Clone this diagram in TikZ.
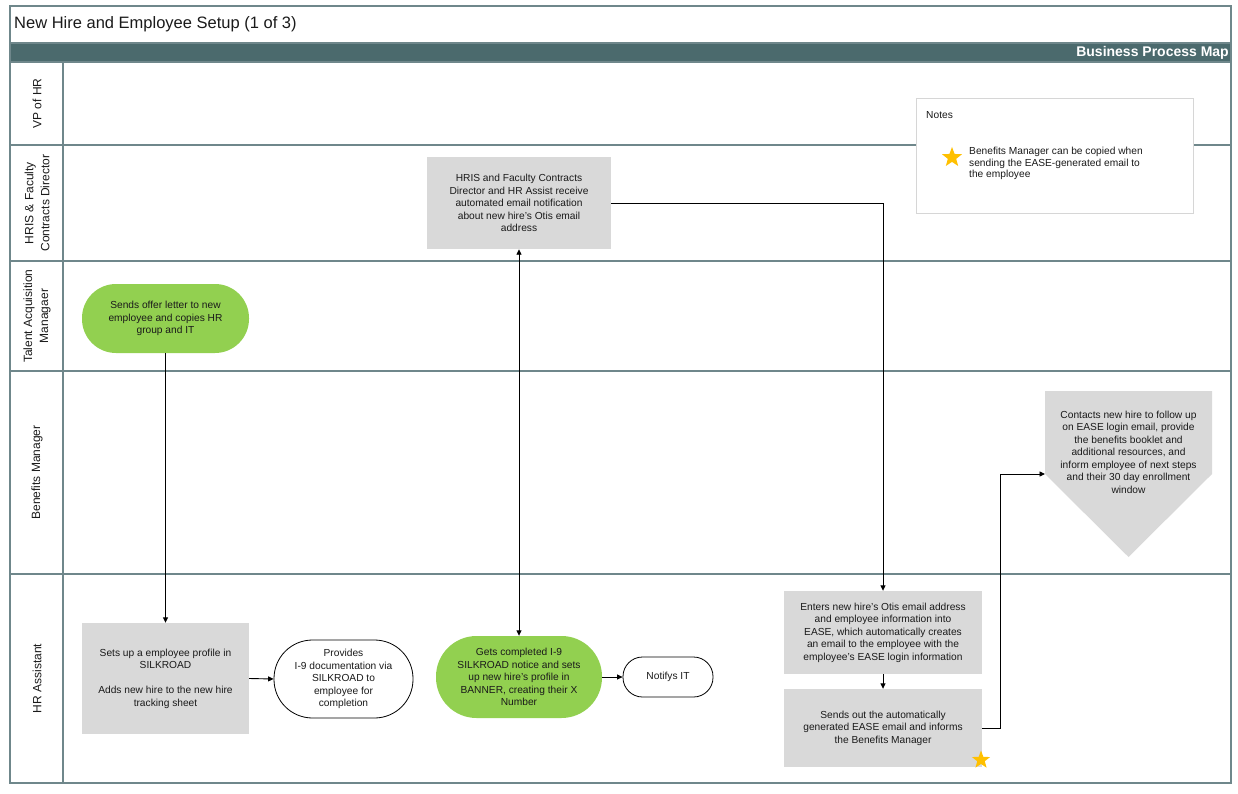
\documentclass[tikz,border=0pt]{standalone}
\usepackage{fontspec}
\setmainfont{Liberation Sans}
\usetikzlibrary{arrows.meta,shapes.geometric}

\definecolor{laneline}{HTML}{6F878B}
\definecolor{band}{HTML}{4B6A6D}
\definecolor{stepgray}{HTML}{D9D9D9}
\definecolor{stepgreen}{HTML}{92D050}
\definecolor{stargold}{HTML}{FFC000}
\definecolor{ink}{HTML}{1A1A1A}
\definecolor{notegray}{HTML}{D6D6D6}

\tikzset{
  body/.style={font=\fontsize{10.2}{12.5}\selectfont, text=ink, align=center, inner sep=0pt},
  graybox/.style={body, rectangle, fill=stepgray},
  greenpill/.style={body, rectangle, rounded corners=#1, fill=stepgreen},
  whitepill/.style={body, rectangle, rounded corners=#1, draw=black, line width=0.8pt, fill=white},
  lanelabel/.style={font=\fontsize{12}{16}\selectfont, text=ink, align=center, rotate=90, inner sep=0pt},
  arr/.style={draw=black, line width=0.9pt, -{Triangle[length=5.5pt,width=5pt]}},
  twoway/.style={draw=black, line width=0.9pt, {Triangle[length=5.5pt,width=5pt]}-{Triangle[length=5.5pt,width=5pt]}},
  frame/.style={draw=laneline, line width=1.6pt},
  goldstar/.style={star, star points=5, star point ratio=2.4, fill=stargold, inner sep=0pt, minimum size=#1},
  goldstar/.default=20pt
}

\begin{document}
\begin{tikzpicture}[x=1pt, y=-1pt]
\useasboundingbox (0,0) rectangle (1238,794);

% --- frame, header band and swimlanes ---
\fill[band] (10,43) rectangle (1231,62);
\draw[frame] (10,6) rectangle (1231,783);
\draw[frame] (10,43) -- (1231,43);
\draw[frame] (10,62) -- (1231,62);
\foreach \y in {145,261,371,574} \draw[frame] (10,\y) -- (1231,\y);
\draw[frame] (63,62) -- (63,783);

\node[anchor=west, inner sep=0pt, font=\fontsize{16.5}{19}\selectfont, text=ink] (title) at (14,24.5) {New Hire and Employee Setup (1 of 3)};
\node[anchor=east, inner sep=0pt, font=\bfseries\fontsize{14}{16}\selectfont, text=white] (bpm) at (1229,52.5) {Business Process Map};

% lane names
\node[lanelabel] (laneVP) at (37,103.5) {VP of HR};
\node[lanelabel] (laneHRIS) at (37,203) {HRIS \& Faculty\\Contracts Director};
\node[lanelabel] (laneTA) at (37,316) {Talent Acquisition\\Managaer};
\node[lanelabel] (laneBM) at (37,472.5) {Benefits Manager};
\node[lanelabel] (laneHRA) at (37,678.5) {HR Assistant};

% --- notes panel ---
\node[draw=notegray, fill=white, line width=1pt, minimum width=277pt, minimum height=115pt, inner sep=0pt] (notes) at (1054.5,156.5) {};
\node[anchor=west, body] (notestitle) at (926,115) {Notes};
\node[goldstar=21pt] (notestar) at (952,157.5) {};
\node[anchor=west, body, align=left, font=\fontsize{10.2}{11.6}\selectfont] (notetext) at (969,163.5) {Benefits Manager can be copied when\\sending the EASE-generated email to\\the employee};

% --- process steps ---
\node[greenpill=34pt, minimum width=167pt, minimum height=69pt] (talent) at (165.5,318.5)
  {Sends offer letter to new\\employee and copies HR\\group and IT};
\node[graybox, minimum width=184pt, minimum height=92pt] (hris) at (519,203)
  {HRIS and Faculty Contracts\\Director and HR Assist receive\\automated email notification\\about new hire's Otis email\\address};
\node[graybox, minimum width=167pt, minimum height=111pt] (setup) at (165.5,678.5)
  {Sets up a employee profile in\\SILKROAD\\[12.5pt]Adds new hire to the new hire\\tracking sheet};
\node[whitepill=38.5pt, minimum width=139pt, minimum height=78pt] (provides) at (343.5,679)
  {Provides\\I-9 documentation via\\SILKROAD to\\employee for\\completion};
\node[greenpill=40.5pt, minimum width=166pt, minimum height=82pt] (gets) at (519,677)
  {Gets completed I-9\\SILKROAD notice and sets\\up new hire's profile in\\BANNER, creating their X\\Number};
\node[whitepill=19.5pt, minimum width=90pt, minimum height=40pt] (notify) at (668,677) {Notifys IT};
\node[graybox, minimum width=198pt, minimum height=83pt] (enters) at (883,632.5)
  {Enters new hire's Otis email address\\and employee information into\\EASE, which automatically creates\\an email to the employee with the\\employee's EASE login information};
\node[graybox, minimum width=198pt, minimum height=78pt] (sends) at (883,728)
  {Sends out the automatically\\generated EASE email and informs\\the Benefits Manager};
\node[goldstar=19pt] (sendstar) at (981,760) {};

% off-page connector to the benefits follow-up
\fill[stepgray] (1045,391) -- (1212,391) -- (1212,474) -- (1128.5,557) -- (1045,474) -- cycle;
\coordinate (contactin) at (1045,474);
\node[body] (contact) at (1128.5,452)
  {Contacts new hire to follow up\\on EASE login email, provide\\the benefits booklet and\\additional resources, and\\inform employee of next steps\\and their 30 day enrollment\\window};

% --- connectors ---
\draw[arr] (talent.south) -- (setup.north);
\draw[twoway] (gets.north) -- (hris.south);
\draw[arr] (hris.east) -| (enters.north);
\draw[arr] (setup.east) -- (provides.west);
\draw[arr] (gets.east) -- (notify.west);
\draw[arr] (enters.south) -- (sends.north);
\draw[arr] (sends.east) -- ++(18,0) |- (contactin);
\end{tikzpicture}
\end{document}
